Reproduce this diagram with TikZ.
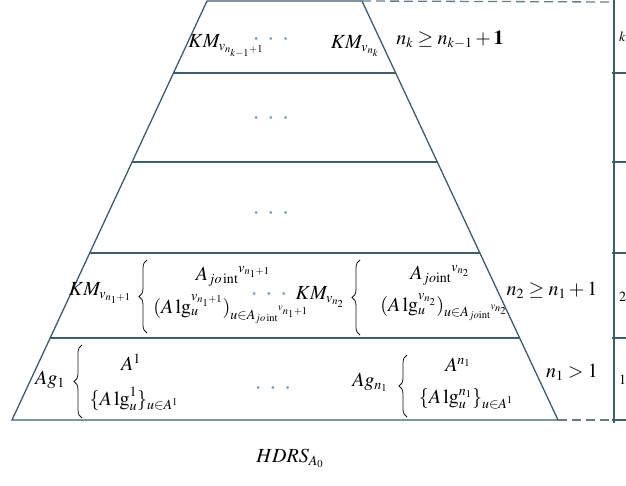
\documentclass[tikz,border=0pt]{standalone}
\usepackage{mathptmx}
\usepackage{fontspec}
\setmainfont{Liberation Serif}
\usetikzlibrary{decorations.pathreplacing}
\DeclareMathSizes{20}{20}{14}{10.5}
\definecolor{lc}{RGB}{62,92,110}
\definecolor{dotc}{RGB}{110,155,195}
\newcommand{\hdots}{\smash{\textcolor{dotc}{\fontsize{26}{26}\selectfont$\cdot\hspace{4pt}\cdot\hspace{4pt}\cdot$}}}
\newcommand{\jo}{jo\,\mathrm{int}}
\newcommand{\jt}{jo\mathrm{int}}
\newcommand{\alg}{A\,\mathrm{lg}}
\begin{document}
\begin{tikzpicture}[x=1pt,y=-1pt,
  every node/.style={font=\fontsize{20}{22}\selectfont, inner sep=0pt},
  edge/.style={draw=lc, line width=1.3pt},
  dashline/.style={draw=lc!80, line width=1.3pt, dash pattern=on 9pt off 5pt},
  curly/.style={draw=black!75!lc, line width=0.8pt, decorate, decoration={brace, amplitude=8pt, aspect=0.5}},
  cut/.style={font=\fontsize{14}{16}\selectfont, anchor=west}]
\useasboundingbox (0,0) rectangle (626,485);
\clip (0,0) rectangle (626,485);
% trapezoid
\coordinate (TL) at (207,1);
\coordinate (TR) at (362,1);
\coordinate (BL) at (12,420);
\coordinate (BR) at (558,420);
\coordinate (L1) at (173,73);  \coordinate (R1) at (396,73);
\coordinate (L2) at (132,162); \coordinate (R2) at (438,162);
\coordinate (L3) at (89.5,253); \coordinate (R3) at (480,253);
\coordinate (L4) at (50,338);  \coordinate (R4) at (520,338);
\draw[edge] (TL) -- (TR) -- (BR) -- (BL) -- cycle;
\draw[edge] (L1) -- (R1);
\draw[edge] (L2) -- (R2);
\draw[edge] (L3) -- (R3);
\draw[edge] (L4) -- (R4);
% right frame
\coordinate (DT) at (612,2);
\coordinate (DB) at (612,420);
\draw[dashline] (TR) -- (DT);
\draw[dashline] (BR) -- (DB);
\coordinate (F0) at (614,0);
\coordinate (F5) at (614,423);
\draw[edge] (F0) -- (F5);
\coordinate (F1) at (612,73);  \coordinate (E1) at (626,73);
\coordinate (F2) at (612,162); \coordinate (E2) at (626,162);
\coordinate (F3) at (612,253); \coordinate (E3) at (626,253);
\coordinate (F4) at (612,338); \coordinate (E4) at (626,338);
\coordinate (F6) at (612,420); \coordinate (E6) at (626,420);
\draw[edge] (F1) -- (E1);
\draw[edge] (F2) -- (E2);
\draw[edge] (F3) -- (E3);
\draw[edge] (F4) -- (E4);
\draw[edge] (F6) -- (E6);
\node[cut] (ck) at (619,37) {$k$};
\node[cut] (c2) at (619,297) {$2$};
\node[cut] (c1) at (619,380) {$1$};
% top layer
\node (kmk1) at (226,46) {$KM_{v_{n_{k-1}+1}}$};
\node (d1) at (271,45) {\hdots};
\node (kmk) at (355,46) {$KM_{v_{n_k}}$};
\node (condk) at (450,40) {$n_k \geq n_{k-1} + \mathbf{1}$};
% middle layers
\node (d2) at (271,124) {\hdots};
\node (d3) at (271,219) {\hdots};
% layer 2
\node (km11) at (100,293) {$KM_{v_{n_1+1}}$};
\coordinate (b4a1) at (147,333); \coordinate (b4a2) at (147,260);
\draw[curly] (b4a1) -- (b4a2);
\node (aj1) at (233,276) {${A_{\jo}}^{v_{n_1+1}}$};
\node (alg1) at (231,309) {$(\alg_u^{v_{n_1+1}})_{u\in {A_{\jo}}^{v_{n_1+1}}}$};
\node (d4) at (269,300) {\hdots};
\node (km2) at (320,297) {$KM_{v_{n_2}}$};
\coordinate (b4b1) at (360,335); \coordinate (b4b2) at (360,260);
\draw[curly] (b4b1) -- (b4b2);
\node (aj2) at (440,275) {${A_{\jt}}^{v_{n_2}}$};
\node (alg2) at (444,307) {$(\alg_u^{v_{n_2}})_{u\in {A_{\jt}}^{v_{n_2}}}$};
\node (cond2) at (552,290) {$n_2 \geq n_1 + 1$};
% layer 1
\node (ag1) at (50,380) {$Ag_1$};
\coordinate (b5a1) at (82,418); \coordinate (b5a2) at (82,345);
\draw[curly] (b5a1) -- (b5a2);
\node (a1) at (131,362) {$A^1$};
\node (alg51) at (134,399) {$\{\alg_u^1\}_{u\in A^1}$};
\node (d5) at (273,394) {\hdots};
\node (agn) at (370,382) {$Ag_{n_1}$};
\coordinate (b5b1) at (407,417); \coordinate (b5b2) at (407,355);
\draw[curly] (b5b1) -- (b5b2);
\node (an) at (458,365) {$A^{n_1}$};
\node (algn) at (466,399) {$\{\alg_u^{n_1}\}_{u\in A^1}$};
\node (cond1) at (572,372) {$n_1 > 1$};
% caption
\node (cap) at (290,458) {$HDRS_{A_0}$};
\end{tikzpicture}
\end{document}
